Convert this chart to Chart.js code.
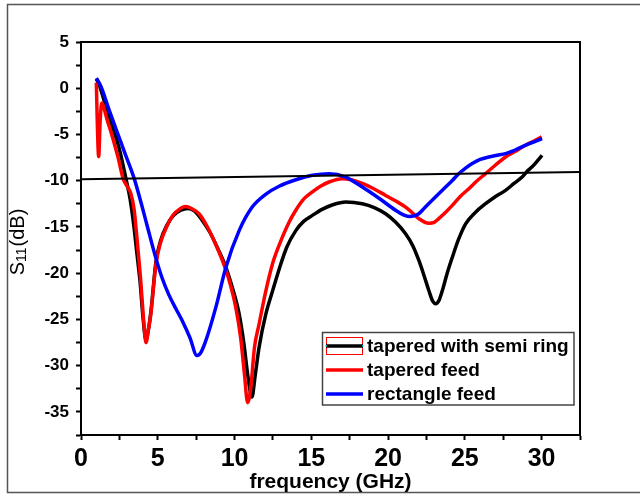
<!DOCTYPE html>
<html><head><meta charset="utf-8">
<script src="https://cdn.jsdelivr.net/npm/chart.js@4.4.1/dist/chart.umd.min.js"></script>
<style>html,body{margin:0;padding:0;background:#fff}canvas{display:block}</style>
</head><body>
<canvas id="c" width="640" height="495"></canvas>
<script>
// ---------- data ----------
const seriesNames = ['tapered with semi ring', 'tapered feed', 'rectangle feed'];

const freqSemiRing = [1.0,1.2,1.5,2.0,2.5,2.93,3.2,3.45,3.65,3.85,4.05,4.23,4.4,4.55,4.88,5.2,5.6,6.0,6.5,6.95,7.4,7.9,8.4,8.9,9.4,9.9,10.3,10.6,10.9,11.13,11.35,11.6,12.04,12.5,12.9,13.4,13.99,14.5,15.07,15.7,16.4,17.24,18.32,19.1,19.84,20.5,21.14,21.6,22.0,22.35,22.66,22.9,23.1,23.3,23.53,23.85,24.18,24.6,25.05,25.7,26.35,27.0,27.65,28.2,28.73,29.05,29.38,29.7,30.03];
const s11SemiRing  = [1.0,0.3,-1.3,-3.9,-6.6,-9.8,-12.0,-15.0,-18.0,-21.0,-25.0,-27.2,-26.0,-24.2,-18.8,-16.4,-14.8,-13.8,-13.2,-13.0,-13.3,-14.3,-15.6,-17.3,-19.2,-21.8,-24.4,-27.5,-31.5,-33.4,-31.0,-28.0,-24.4,-21.8,-19.6,-17.2,-15.4,-14.4,-13.75,-13.1,-12.6,-12.3,-12.49,-12.9,-13.57,-14.5,-15.74,-17.0,-18.6,-20.3,-21.9,-23.0,-23.3,-23.0,-21.9,-20.0,-18.3,-16.3,-14.66,-13.4,-12.49,-11.7,-11.04,-10.3,-9.6,-9.0,-8.5,-7.9,-7.25];

const freqTapered = [1.0,1.05,1.15,1.25,1.35,1.45,1.7,2.0,2.4,2.75,3.0,3.25,3.45,3.6,3.85,4.1,4.23,4.4,4.55,4.88,5.2,5.6,6.0,6.4,6.8,7.2,7.7,8.2,8.7,9.2,9.6,10.08,10.4,10.65,10.85,11.05,11.3,11.6,12.0,12.47,12.9,13.55,13.99,14.5,15.07,15.6,16.15,17.02,17.6,18.32,19.1,19.84,20.5,21.14,21.6,22.0,22.66,23.0,23.3,23.7,24.18,24.7,25.26,25.8,26.35,27.0,27.65,28.3,28.95,29.5,30.0];
const s11Tapered  = [0.6,-3.0,-7.4,-3.5,-1.6,-1.9,-3.4,-5.0,-7.4,-9.8,-10.6,-11.4,-13.0,-15.4,-20.0,-25.5,-27.5,-26.0,-24.4,-19.0,-16.6,-14.9,-13.7,-13.1,-12.8,-13.0,-13.6,-14.9,-16.6,-18.6,-20.5,-23.7,-27.0,-31.0,-34.0,-32.5,-28.0,-25.5,-22.2,-19.0,-17.0,-14.5,-13.2,-12.0,-11.2,-10.6,-10.14,-9.78,-9.9,-10.3,-10.9,-11.59,-12.2,-12.85,-13.5,-14.1,-14.6,-14.5,-14.1,-13.5,-12.67,-11.7,-10.86,-10.0,-9.23,-8.3,-7.43,-6.8,-6.17,-5.7,-5.26];

const freqRect = [1.0,1.3,1.84,2.3,2.9,3.47,3.9,4.33,4.88,5.3,5.74,6.2,6.61,7.1,7.55,7.8,8.13,8.78,9.43,10.3,11.15,12.0,12.9,13.99,15.07,16.15,17.24,18.32,19.41,20.49,21.0,21.36,21.7,22.0,22.4,22.88,23.3,23.75,24.2,24.6,25.0,25.48,26.0,26.56,27.1,27.65,28.1,28.5,29.2,30.03];
const s11Rect  = [1.1,0.2,-2.4,-4.5,-7.2,-9.8,-12.3,-15.0,-18.4,-20.6,-22.4,-23.9,-25.2,-27.0,-28.9,-28.6,-27.3,-23.7,-19.4,-15.4,-12.85,-11.5,-10.6,-9.9,-9.42,-9.24,-9.6,-10.69,-11.9,-13.2,-13.7,-13.86,-13.8,-13.57,-12.9,-12.1,-11.4,-10.69,-9.95,-9.24,-8.7,-8.15,-7.7,-7.43,-7.25,-7.07,-6.8,-6.5,-6.0,-5.44];

const freqThreshold = [0, 32.5];
const s11Threshold  = [-9.85, -9.05];

const xTickLabels = [0, 5, 10, 15, 20, 25, 30];
const yTickLabels = [5, 0, -5, -10, -15, -20, -25, -30, -35];

// ---------- helpers ----------
const FONT = "'Liberation Sans', Arial, Helvetica, sans-serif";
const zip = (xs, ys) => xs.map((x, i) => ({x: x, y: ys[i]}));
const near = (v, list) => list.some(t => Math.abs(t - v) < 1e-6);

const framePlugin = {
  id: 'frame',
  beforeDraw(chart) {
    const ctx = chart.ctx;
    ctx.save();
    ctx.fillStyle = '#fff';
    ctx.fillRect(0, 0, chart.width, chart.height);
    ctx.strokeStyle = '#555';
    ctx.lineWidth = 1.5;
    ctx.beginPath();
    ctx.moveTo(640, 4.5); ctx.lineTo(7.5, 4.5); ctx.lineTo(7.5, 492.5); ctx.lineTo(640, 492.5);
    ctx.stroke();
    ctx.restore();
  },
  afterDraw(chart) {
    const ctx = chart.ctx, a = chart.chartArea;
    ctx.save();
    ctx.strokeStyle = '#000';
    ctx.lineWidth = 2;
    ctx.beginPath();
    ctx.moveTo(a.left, a.top); ctx.lineTo(a.right, a.top); ctx.lineTo(a.right, a.bottom);
    ctx.stroke();

    // y axis title with subscript
    const big = 'normal 20px ' + FONT, small = 'normal 14px ' + FONT;
    ctx.font = big; const wS = ctx.measureText('S').width; const wP = ctx.measureText('(dB)').width;
    ctx.font = small; const w11 = ctx.measureText('11').width;
    const total = wS + w11 + 1 + wP;
    ctx.translate(18, 242);
    ctx.rotate(-Math.PI / 2);
    ctx.fillStyle = '#000';
    ctx.textBaseline = 'middle';
    ctx.textAlign = 'left';
    let x0 = -total / 2;
    ctx.font = big; ctx.fillText('S', x0, 0); x0 += wS;
    ctx.font = small; ctx.fillText('11', x0, 4); x0 += w11 + 1;
    ctx.font = big; ctx.fillText('(dB)', x0, 0);
    ctx.restore();

    // legend
    ctx.save();
    ctx.strokeStyle = '#444';
    ctx.lineWidth = 1.5;
    ctx.strokeRect(322.5, 332.5, 251.5, 72.5);
    const rows = [346, 370, 394];
    const cols = ['#000', '#ff0000', '#0000ff'];
    ctx.strokeStyle = '#ff0000'; ctx.lineWidth = 1;
    ctx.strokeRect(326.5, 337.5, 36, 17);
    for (let i = 0; i < 3; i++) {
      ctx.strokeStyle = cols[i]; ctx.lineWidth = 3.5; ctx.lineCap = 'butt';
      ctx.beginPath(); ctx.moveTo(326, rows[i]); ctx.lineTo(363, rows[i]); ctx.stroke();
    }
    ctx.fillStyle = '#00c8c8';
    ctx.fillRect(325.5, 345, 1.5, 1.5); ctx.fillRect(362, 345, 1.5, 1.5);
    ctx.fillStyle = '#000';
    ctx.font = 'bold 19px ' + FONT;
    ctx.textBaseline = 'middle'; ctx.textAlign = 'left';
    for (let i = 0; i < 3; i++) ctx.fillText(seriesNames[i], 367, rows[i] + 1);
    ctx.restore();
  }
};

const lineDs = (label, data, color, width) => ({
  label: label, data: data, borderColor: color, backgroundColor: color,
  borderWidth: width, pointRadius: 0, fill: false,
  cubicInterpolationMode: 'monotone'
});

new Chart(document.getElementById('c'), {
  type: 'line',
  data: {
    datasets: [
      lineDs('threshold', zip(freqThreshold, s11Threshold), '#000', 2),
      lineDs(seriesNames[2], zip(freqRect, s11Rect), '#0000ff', 3.5),
      lineDs(seriesNames[1], zip(freqTapered, s11Tapered), '#ff0000', 3.5),
      lineDs(seriesNames[0], zip(freqSemiRing, s11SemiRing), '#000000', 3.5)
    ]
  },
  options: {
    responsive: false,
    animation: false,
    parsing: true,
    layout: { padding: { left: 0, top: 42, right: 60, bottom: 0 } },
    plugins: { legend: { display: false }, tooltip: { enabled: false }, title: { display: false } },
    scales: {
      x: {
        type: 'linear', position: 'bottom', min: 0, max: 32.5,
        afterFit: s => { s.height = 60; },
        border: { display: true, color: '#000', width: 2 },
        grid: { drawOnChartArea: false, drawTicks: true, tickLength: 5, tickColor: '#000', tickWidth: 2 },
        ticks: {
          stepSize: 2.5, autoSkip: false, maxRotation: 0, minRotation: 0, padding: 4,
          color: '#000', font: { family: FONT, size: 25, weight: 'bold' },
          callback: v => near(v, xTickLabels) ? String(Math.round(v)) : ''
        },
        title: { display: true, text: 'frequency (GHz)', color: '#000', padding: 0,
                 font: { family: FONT, size: 21, weight: 'bold' } }
      },
      y: {
        type: 'linear', position: 'left', min: -37.5, max: 5,
        afterFit: s => { s.width = 81; },
        border: { display: true, color: '#000', width: 2 },
        grid: { drawOnChartArea: false, drawTicks: true, tickLength: 5, tickColor: '#000', tickWidth: 2 },
        ticks: {
          stepSize: 2.5, autoSkip: false, padding: 7,
          color: '#000', font: { family: FONT, size: 17, weight: 'bold' },
          callback: v => near(v, yTickLabels) ? String(Math.round(v)) : ''
        }
      }
    }
  },
  plugins: [framePlugin]
});
</script>
</body></html>
